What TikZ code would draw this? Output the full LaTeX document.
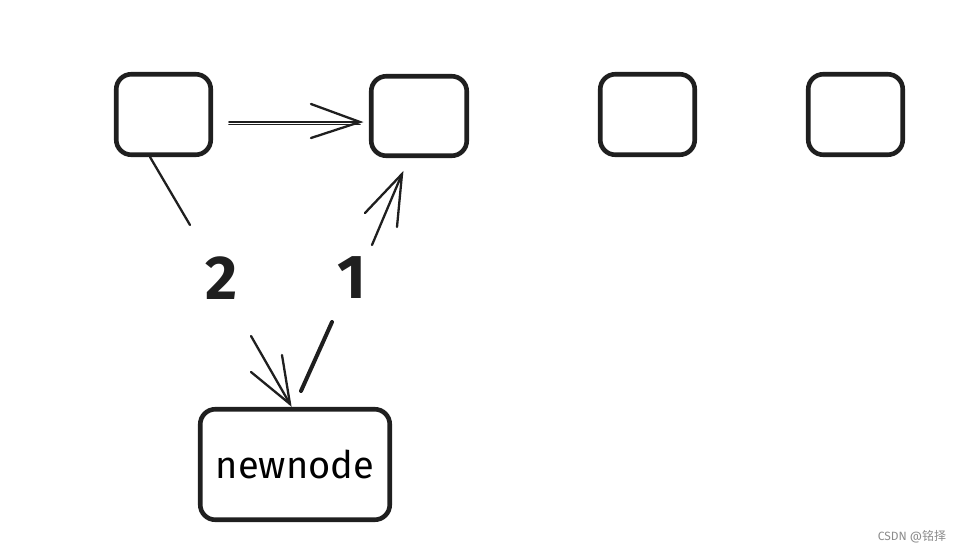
\documentclass[tikz,border=0pt]{standalone}
\usepackage{fontspec}
\setmainfont{Fira Sans}
\newfontfamily\cjk{Noto Sans CJK SC}
\begin{document}
\begin{tikzpicture}[x=1pt,y=-1pt,
  box/.style={draw=black!88,line width=4.6pt,rounded corners=15pt,minimum width=94.5pt,minimum height=80.5pt,inner sep=0pt},
  stroke/.style={draw=black!88,line width=2.3pt,line cap=round},
  thick stroke/.style={draw=black!88,line width=4pt,line cap=round},
  lbl/.style={font=\fontsize{62}{62}\selectfont\bfseries,text=black!88,inner sep=0pt}]
\useasboundingbox (0,0) rectangle (962,552);
\node[box] (A) at (163.5,114.5) {};
\node[box,minimum width=95.5pt,minimum height=79.5pt] (B) at (419,116) {};
\node[box] (C) at (647.5,114.5) {};
\node[box] (D) at (855.5,114.5) {};
\node[box,minimum width=189.5pt,minimum height=110.5pt] (N) at (295,464.5) {\fontsize{38}{38}\selectfont newnode};
\node[lbl] (two) at (222,278) {2};
\node[lbl] (one) at (352,278) {1};
% arrow A -> B (double line)
\coordinate (ab1) at (229,122);
\coordinate (ab2) at (360,122);
\coordinate (ab3) at (229,124.5);
\coordinate (ab4) at (360,124.5);
\draw[stroke,line width=1.6pt] (ab1) -- (ab2);
\draw[stroke,line width=1.6pt] (ab3) -- (ab4);
\coordinate (abh1) at (311,104);
\coordinate (abh2) at (311,138);
\draw[stroke] (abh1) -- (ab2) -- (abh2);
% edge 2: A -> newnode
\coordinate (e2a) at (150,157);
\coordinate (e2b) at (190,225);
\coordinate (e2c) at (251,336);
\coordinate (e2tip) at (290,404);
\coordinate (e2h1) at (251,372);
\coordinate (e2h2) at (282,355);
\draw[stroke] (e2a) -- (e2b);
\draw[stroke] (e2c) -- (e2tip);
\draw[stroke] (e2h1) -- (e2tip) -- (e2h2);
% edge 1: newnode -> B
\coordinate (e1a) at (301,391);
\coordinate (e1b) at (332,322);
\coordinate (e1c) at (372,245);
\coordinate (e1tip) at (402,174);
\coordinate (e1h1) at (365,213);
\coordinate (e1h2) at (397,227);
\draw[thick stroke] (e1a) -- (e1b);
\draw[stroke] (e1c) -- (e1tip);
\draw[stroke] (e1h1) -- (e1tip) -- (e1h2);
% watermark
\node[text=black!45,font=\fontsize{12}{12}\selectfont,inner sep=0pt] (wm) at (912,537) {CSDN @{\cjk 铭择}};
\end{tikzpicture}
\end{document}
